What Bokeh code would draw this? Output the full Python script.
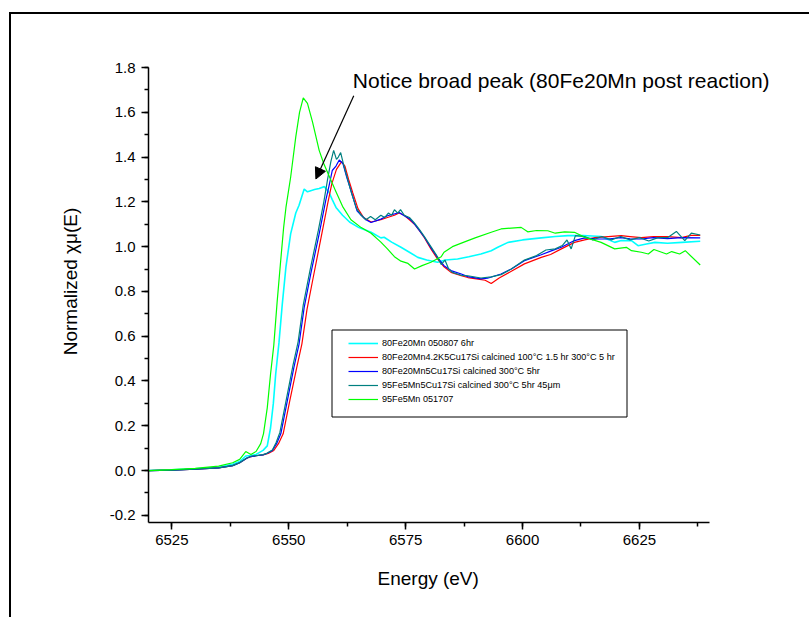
from bokeh.plotting import figure
from bokeh.models import (Range1d, Label, Arrow, NormalHead, Title, BoxAnnotation,
                          SingleIntervalTicker, PrintfTickFormatter, Legend, LegendItem)
from bokeh.embed import file_html
from bokeh.resources import INLINE

# ---------------- data (energy eV, normalized absorption) ----------------
cyan_80Fe20Mn = [
    (6520, 0.0), (6525, 0.003), (6530, 0.008), (6535, 0.015), (6538, 0.028), (6539.5, 0.04),
    (6540.8, 0.065), (6541.9, 0.067), (6543, 0.072), (6544.5, 0.09), (6545.4, 0.11),
    (6546.1, 0.19), (6546.7, 0.3), (6547.2, 0.43), (6547.9, 0.57), (6548.6, 0.74),
    (6549.4, 0.91), (6550.4, 1.057), (6551.5, 1.15), (6552.2, 1.185), (6553.3, 1.257),
    (6554, 1.245), (6554.7, 1.25), (6555.5, 1.255), (6556.5, 1.26), (6557.6, 1.268),
    (6558.6, 1.243), (6559.3, 1.21), (6560.1, 1.175), (6561.5, 1.14), (6563, 1.11),
    (6565, 1.085), (6567.6, 1.064), (6569.7, 1.039), (6570.4, 1.042), (6572, 1.02),
    (6574, 0.997), (6575.8, 0.975), (6577.6, 0.952), (6579.5, 0.94), (6581.8, 0.93),
    (6583.5, 0.94), (6586.1, 0.945), (6588.5, 0.955), (6591.1, 0.967), (6593.3, 0.982),
    (6594.7, 0.997), (6596.9, 1.019), (6600, 1.03), (6604, 1.039), (6607, 1.045),
    (6609.7, 1.049), (6613, 1.05), (6616.8, 1.045), (6619.7, 1.019), (6621.1, 1.027),
    (6623.3, 1.027), (6624.7, 1.004), (6626.5, 1.012), (6628.3, 1.019), (6631, 1.015),
    (6634.1, 1.019), (6638, 1.024),
]

red_80Fe20Mn4K = [
    (6520, 0.0), (6525, 0.002), (6530, 0.006), (6535, 0.012), (6538, 0.022), (6539.5, 0.035),
    (6541, 0.055), (6541.9, 0.062), (6543, 0.066), (6544.5, 0.07), (6545.6, 0.076),
    (6546.8, 0.09), (6547.8, 0.12), (6548.8, 0.164), (6550.2, 0.31), (6551.7, 0.46),
    (6552.8, 0.565), (6553.9, 0.72), (6555.3, 0.87), (6557, 1.05), (6558.3, 1.19),
    (6559.2, 1.28), (6560.2, 1.345), (6561.3, 1.38), (6562, 1.36), (6562.8, 1.3),
    (6563.7, 1.24), (6564.8, 1.17), (6566, 1.13), (6567.6, 1.11), (6569.7, 1.12),
    (6571.1, 1.13), (6572.6, 1.14), (6573.6, 1.15), (6574.7, 1.14), (6575.8, 1.12),
    (6576.9, 1.1), (6578, 1.07), (6579, 1.04), (6580.4, 0.99), (6581.8, 0.945),
    (6583.2, 0.91), (6584.7, 0.885), (6586.9, 0.87), (6588.3, 0.862), (6590.5, 0.855),
    (6592, 0.85), (6593.3, 0.835), (6595, 0.86), (6597.6, 0.89), (6600.4, 0.923),
    (6604, 0.952), (6606, 0.965), (6608.3, 0.99), (6611.1, 1.019), (6613.3, 1.03),
    (6615.5, 1.04), (6618.3, 1.045), (6621.1, 1.049), (6623, 1.045), (6625.4, 1.04),
    (6628, 1.045), (6631, 1.045), (6634, 1.04), (6636, 1.05), (6638, 1.05),
]

blue_80Fe20Mn5Cu = [
    (6520, 0.0), (6525, 0.002), (6530, 0.006), (6535, 0.012), (6538, 0.022), (6539.5, 0.035),
    (6541, 0.055), (6541.9, 0.0625), (6543, 0.066), (6544.5, 0.07), (6545.4, 0.077),
    (6546.5, 0.09), (6547.4, 0.12), (6548.3, 0.164), (6549.7, 0.3125), (6551.1, 0.461),
    (6552.2, 0.565), (6553.3, 0.729), (6554.7, 0.878), (6556.5, 1.057), (6557.9, 1.205),
    (6558.6, 1.27), (6559.3, 1.34), (6560.1, 1.36), (6560.8, 1.387), (6561.6, 1.37),
    (6562.4, 1.31), (6563.3, 1.25), (6564.6, 1.16), (6565.5, 1.14), (6566.5, 1.12),
    (6567.6, 1.108), (6568.6, 1.115), (6569.7, 1.123), (6571.1, 1.138), (6572.6, 1.146),
    (6573.6, 1.153), (6574.7, 1.138), (6575.8, 1.125), (6576.9, 1.101), (6578, 1.07),
    (6579, 1.042), (6580.4, 0.995), (6581.8, 0.952), (6583.2, 0.915), (6584.7, 0.893),
    (6586.9, 0.878), (6588.3, 0.866), (6591.1, 0.856), (6592.5, 0.859), (6595.4, 0.878),
    (6597.6, 0.9), (6600.4, 0.9375), (6604, 0.964), (6606, 0.98), (6608.3, 0.997),
    (6611.1, 1.027), (6613.3, 1.039), (6615.5, 1.035), (6618.3, 1.034), (6621, 1.04),
    (6623, 1.035), (6625.4, 1.034), (6628, 1.04), (6631, 1.036), (6634, 1.04), (6638, 1.039),
]

teal_95Fe5Mn5Cu = [
    (6520, 0.0), (6525, 0.002), (6530, 0.006), (6535, 0.012), (6538, 0.022), (6539.5, 0.035),
    (6541, 0.056), (6541.9, 0.064), (6543, 0.067), (6544.5, 0.071), (6545.4, 0.078),
    (6546.5, 0.092), (6547.3, 0.125), (6548.1, 0.17), (6549.5, 0.32), (6550.9, 0.47),
    (6552, 0.575), (6553.1, 0.74), (6554.5, 0.89), (6556.3, 1.07), (6557.5, 1.2),
    (6558.3, 1.3), (6559, 1.38), (6559.6, 1.43), (6560.2, 1.39), (6560.6, 1.4),
    (6561.1, 1.42), (6561.8, 1.36), (6562.6, 1.3), (6563.4, 1.24), (6564.5, 1.17),
    (6565.5, 1.14), (6566.5, 1.12), (6567.5, 1.135), (6568.5, 1.12), (6569.7, 1.14),
    (6570.5, 1.13), (6571.3, 1.15), (6572, 1.14), (6572.6, 1.165), (6573.3, 1.15),
    (6573.9, 1.165), (6574.7, 1.14), (6575.8, 1.13), (6576.9, 1.105), (6578, 1.075),
    (6579, 1.045), (6580.4, 1.0), (6581.8, 0.955), (6582.6, 0.92), (6583.4, 0.94),
    (6584.2, 0.9), (6585, 0.885), (6586.9, 0.872), (6588.3, 0.87), (6591.1, 0.86),
    (6593.3, 0.865), (6595.4, 0.875), (6597.6, 0.9), (6600.4, 0.94), (6603, 0.96),
    (6605, 0.985), (6607, 0.99), (6608.5, 1.005), (6609.5, 1.03), (6610.4, 0.99),
    (6611.3, 1.049), (6613.3, 1.045), (6615, 1.03), (6617, 1.045), (6619, 1.03),
    (6621, 1.045), (6623, 1.03), (6625, 1.04), (6627, 1.025), (6629, 1.04), (6631, 1.04),
    (6632.9, 1.068), (6634.7, 1.027), (6636.1, 1.06), (6638, 1.052),
]

green_95Fe5Mn = [
    (6520, 0.0), (6525, 0.004), (6530, 0.01), (6535, 0.02), (6538, 0.035), (6539.5, 0.05),
    (6540.8, 0.085), (6541.9, 0.072), (6543, 0.085), (6544, 0.12), (6544.6, 0.165),
    (6545.4, 0.28), (6546.1, 0.43), (6546.8, 0.56), (6547.5, 0.75), (6548.2, 0.92),
    (6548.9, 1.085), (6549.4, 1.175), (6550.4, 1.31), (6551.5, 1.49), (6552.3, 1.6),
    (6553.1, 1.664), (6554, 1.64), (6555.1, 1.555), (6556.5, 1.43), (6557.5, 1.37),
    (6558.6, 1.317), (6560, 1.25), (6561.5, 1.18), (6563.3, 1.12), (6565.5, 1.085),
    (6567.6, 1.06), (6569.7, 1.02), (6571.1, 0.99), (6572.6, 0.955), (6574, 0.935),
    (6575.5, 0.925), (6576.9, 0.9), (6578.5, 0.915), (6580.4, 0.93), (6582.6, 0.955),
    (6583.2, 0.975), (6585, 1.0), (6588.3, 1.027), (6590, 1.04), (6593.3, 1.064),
    (6595.4, 1.079), (6597.6, 1.083), (6599.7, 1.086), (6601.1, 1.066), (6603, 1.072),
    (6605.4, 1.071), (6607, 1.06), (6609, 1.066), (6611.1, 1.064), (6613.3, 1.042),
    (6616.8, 1.019), (6619.7, 0.99), (6622.2, 0.997), (6623.3, 0.982), (6625.4, 0.975),
    (6626.9, 0.967), (6628.1, 0.987), (6630.8, 0.967), (6631.9, 0.978), (6633.6, 0.967),
    (6634.8, 0.982), (6638, 0.918),
]

series_labels = [
    "80Fe20Mn 050807 6hr",
    "80Fe20Mn4.2K5Cu17Si calcined 100°C 1.5 hr 300°C 5 hr",
    "80Fe20Mn5Cu17Si calcined 300°C 5hr",
    "95Fe5Mn5Cu17Si calcined 300°C 5hr 45μm",
    "95Fe5Mn 051707",
]
series_data = [cyan_80Fe20Mn, red_80Fe20Mn4K, blue_80Fe20Mn5Cu, teal_95Fe5Mn5Cu, green_95Fe5Mn]
series_colors = ["#00FFFF", "#FF0000", "#0000FF", "#008080", "#00FF00"]
series_widths = [1.6, 1.2, 1.2, 1.2, 1.2]

x_axis_bounds = (6520, 6640)
y_axis_bounds = (-0.232, 1.8)
x_ticks_interval = 25
y_ticks_interval = 0.2
x_title = "Energy (eV)"
y_title = "Normalized χμ(E)"
annotation_text = "Notice broad peak (80Fe20Mn post reaction)"

FONT = "Liberation Sans"

# the frame runs to the right edge so the annotation is not clipped;
# the axes themselves are limited with bounds
p = figure(width=800, height=605, output_backend="svg", toolbar_location=None,
           x_range=Range1d(6520, 6661.8), y_range=Range1d(-0.232, 1.9206),
           min_border_left=137, min_border_right=0, min_border_top=26, min_border_bottom=97,
           margin=(12, 0, 0, 9),
           styles={"border-top": "2px solid black", "border-left": "2px solid black"})
p.outline_line_color = None
p.grid.grid_line_color = None
p.background_fill_color = "white"
p.border_fill_color = "white"

items = []
for lab, d, c, w in zip(series_labels, series_data, series_colors, series_widths):
    xs = [a for a, b in d]
    ys = [b for a, b in d]
    r = p.line(xs, ys, line_color=c, line_width=w)
    items.append(LegendItem(label=lab, renderers=[r]))

# axes
p.xaxis.ticker = SingleIntervalTicker(interval=x_ticks_interval, num_minor_ticks=2)
p.yaxis.ticker = SingleIntervalTicker(interval=y_ticks_interval, num_minor_ticks=2)
p.yaxis.formatter = PrintfTickFormatter(format="%.1f")
p.xaxis.bounds = x_axis_bounds
p.yaxis.bounds = y_axis_bounds
for ax in (p.xaxis, p.yaxis):
    ax.axis_line_color = "black"
    ax.axis_line_width = 1.5
    ax.major_tick_line_color = "black"
    ax.major_tick_line_width = 1.5
    ax.minor_tick_line_color = "black"
    ax.minor_tick_line_width = 1.5
    ax.major_tick_out = 7
    ax.major_tick_in = 0
    ax.minor_tick_out = 4
    ax.minor_tick_in = 0
    ax.major_label_text_font = FONT
    ax.major_label_text_font_size = "15px"
    ax.major_label_text_color = "black"
    ax.axis_label_text_font = FONT
    ax.axis_label_text_font_size = "19px"
    ax.axis_label_text_font_style = "normal"
    ax.axis_label_text_color = "black"
p.yaxis.axis_label = y_title
p.xaxis.major_label_standoff = 5
p.yaxis.major_label_standoff = 6
p.yaxis.axis_label_standoff = 26

# x title centred under the bounded axis (the frame itself is wider)
p.add_layout(Title(text=x_title, align="left", offset=229, vertical_align="middle",
                   standoff=38, text_font=FONT, text_font_size="19px",
                   text_font_style="normal", text_color="black"), "below")

# legend frame (drawn separately so the entries can sit further in horizontally)
p.add_layout(BoxAnnotation(left=318.5, right=613.5, top=313.5, bottom=400.5,
                           left_units="canvas", right_units="canvas",
                           top_units="canvas", bottom_units="canvas",
                           fill_color="white", fill_alpha=1,
                           line_color="black", line_alpha=1, line_width=1))

legend = Legend(items=items, location=(200, 117), orientation="vertical")
legend.label_text_font = FONT
legend.label_text_font_size = "9.1px"
legend.label_text_color = "black"
legend.glyph_width = 30
legend.glyph_height = 12
legend.label_height = 12
legend.spacing = 2
legend.padding = 7
legend.label_standoff = 4
legend.margin = 0
legend.border_line_color = None
legend.background_fill_alpha = 0
p.add_layout(legend, "center")

# annotation with arrow
p.add_layout(Label(x=6563.7, y=1.741, text=annotation_text, text_font=FONT,
                   text_font_size="21px", text_baseline="middle", text_align="left",
                   text_color="black"))
p.add_layout(Arrow(x_start=6563.9, y_start=1.674, x_end=6555.8, y_end=1.302,
                   line_color="black", line_width=1.2,
                   end=NormalHead(size=11, fill_color="black", line_color="black")))

open("out.html", "w").write(file_html(p, INLINE))
